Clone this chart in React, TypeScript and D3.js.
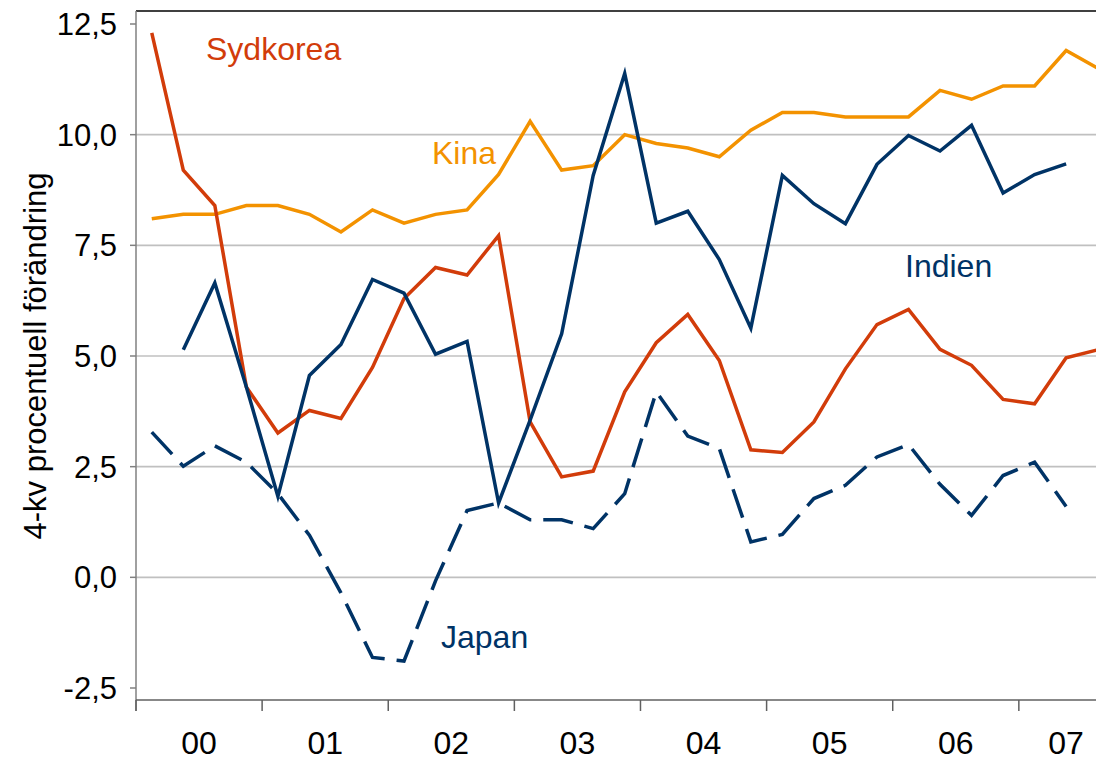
import React from "react";
import * as d3 from "d3";

const years = ["00", "01", "02", "03", "04", "05", "06", "07"];
const yTicks = [-2.5, 0, 2.5, 5, 7.5, 10, 12.5];
const gridValues = [0, 2.5, 5, 7.5, 10];

const kina = [8.1, 8.2, 8.2, 8.4, 8.4, 8.2, 7.8, 8.3, 8.0, 8.2, 8.3, 9.1, 10.3, 9.2, 9.3, 10.0, 9.8, 9.7, 9.5, 10.1, 10.5, 10.5, 10.4, 10.4, 10.4, 11.0, 10.8, 11.1, 11.1, 11.9, 11.5];
const sydkorea = [12.3, 9.2, 8.4, 4.3, 3.26, 3.77, 3.59, 4.74, 6.3, 7.0, 6.83, 7.72, 3.51, 2.27, 2.4, 4.19, 5.3, 5.94, 4.9, 2.88, 2.82, 3.51, 4.71, 5.71, 6.05, 5.15, 4.79, 4.02, 3.92, 4.96, 5.14];
const indien: (number | null)[] = [null, 5.14, 6.65, 4.3, 1.83, 4.56, 5.26, 6.73, 6.42, 5.04, 5.33, 1.68, 3.55, 5.5, 9.08, 11.38, 8.0, 8.27, 7.18, 5.63, 9.08, 8.44, 7.99, 9.33, 9.98, 9.63, 10.21, 8.68, 9.1, 9.34];
const japan = [3.28, 2.51, 2.97, 2.6, 1.89, 0.95, -0.35, -1.81, -1.89, -0.08, 1.51, 1.68, 1.3, 1.3, 1.1, 1.89, 4.19, 3.19, 2.91, 0.8, 0.97, 1.78, 2.08, 2.72, 3.0, 2.1, 1.4, 2.3, 2.6, 1.6];

const RED = "#d23c0a";
const ORANGE = "#f39200";
const NAVY = "#003366";
const FONT = "'Liberation Sans', Arial, sans-serif";

export default function App() {
  const W = 1096;
  const H = 761;
  const left = 136;
  const top = 11;
  const bottom = 700;
  const quarterW = 31.53;
  const nQ = 32;

  const x = d3.scaleLinear().domain([0, nQ]).range([left, left + nQ * quarterW]);
  const y = d3.scaleLinear().domain([-2.5, 12.5]).range([688, 24]);

  const line = d3
    .line<number | null>()
    .defined((d) => d !== null)
    .x((_, i) => x(i + 0.5))
    .y((d) => y(d as number));

  const yearTicks = d3.range(0, nQ + 1, 4);

  return (
    <svg
      width={W}
      height={H}
      style={{ position: "absolute", left: 0, top: 0, background: "#fff" }}
      fontFamily={FONT}
    >
      <rect x={0} y={0} width={W} height={H} fill="#fff" />
      {gridValues.map((v) => (
        <line key={v} x1={left} x2={W} y1={y(v)} y2={y(v)} stroke="#c0c0c0" strokeWidth={1.6} />
      ))}
      {/* top border */}
      <line x1={left} x2={W} y1={top} y2={top} stroke="#000" strokeWidth={1.3} />
      {/* y axis */}
      <line x1={left} x2={left} y1={top} y2={711} stroke="#808080" strokeWidth={1.5} />
      {yTicks.map((v) => (
        <g key={v}>
          <line x1={130} x2={left} y1={y(v)} y2={y(v)} stroke="#808080" strokeWidth={1.5} />
          <text x={117} y={y(v)} dy="0.36em" textAnchor="end" fontSize={31} fill="#000">
            {d3.format(".1f")(v).replace(".", ",").replace("−", "-")}
          </text>
        </g>
      ))}
      {/* x axis */}
      <line x1={left} x2={W} y1={bottom} y2={bottom} stroke="#606060" strokeWidth={1.5} />
      {yearTicks.map((q) => (
        <line key={q} x1={x(q)} x2={x(q)} y1={bottom} y2={711} stroke="#606060" strokeWidth={1.5} />
      ))}
      {years.map((yr, i) => {
        const cx = Math.min(x(i * 4 + 2), W - 30);
        return (
          <text key={yr} x={cx} y={754} textAnchor="middle" fontSize={32} fill="#000">
            {yr}
          </text>
        );
      })}
      {/* y title */}
      <text
        transform={`translate(46, 356) rotate(-90)`}
        textAnchor="middle"
        fontSize={31}
        fill="#000"
      >
        4-kv procentuell förändring
      </text>

      <path d={line(kina) || ""} fill="none" stroke={ORANGE} strokeWidth={3.5} />
      <path d={line(sydkorea) || ""} fill="none" stroke={RED} strokeWidth={3.5} />
      <path d={line(indien) || ""} fill="none" stroke={NAVY} strokeWidth={3.5} />
      <path d={line(japan) || ""} fill="none" stroke={NAVY} strokeWidth={3.5} strokeDasharray="30 12" />

      <text x={206} y={60} fontSize={32} fill={RED}>Sydkorea</text>
      <text x={432} y={164} fontSize={32} fill={ORANGE}>Kina</text>
      <text x={905} y={277} fontSize={32} fill={NAVY}>Indien</text>
      <text x={441} y={648} fontSize={32} fill={NAVY}>Japan</text>
    </svg>
  );
}
